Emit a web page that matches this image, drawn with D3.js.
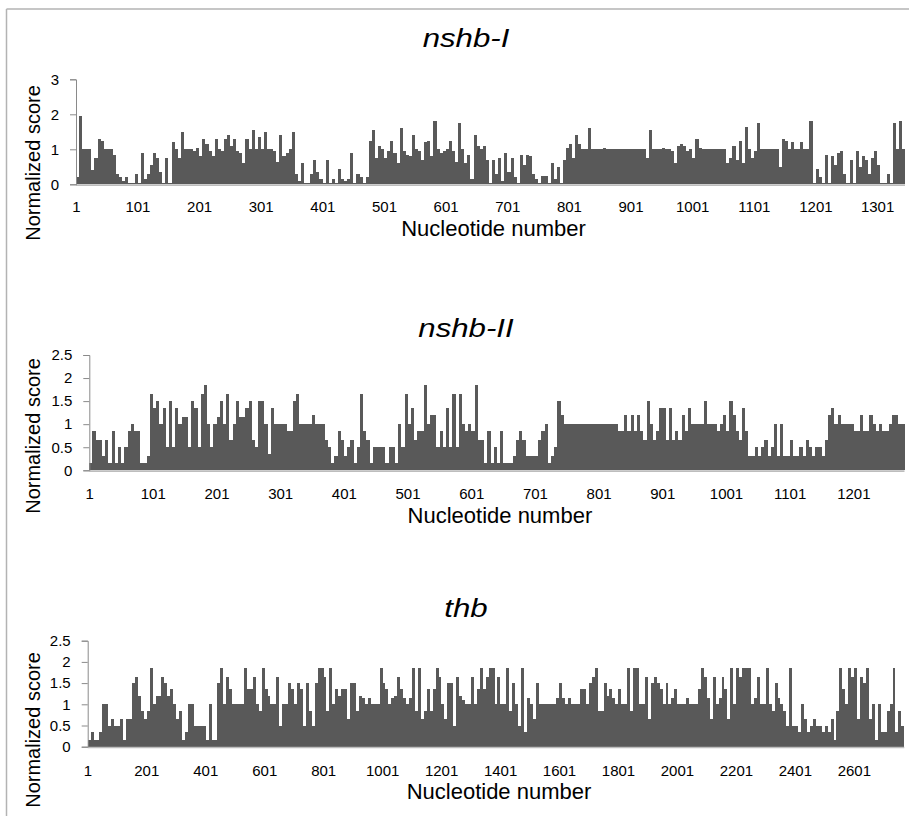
<!DOCTYPE html>
<html>
<head>
<meta charset="utf-8">
<script src="https://cdn.jsdelivr.net/npm/d3@7"></script>
<style>
  html, body { margin: 0; padding: 0; background: #fff; }
  svg { display: block; }
  text { font-family: "Liberation Sans", Arial, sans-serif; fill: #000; }
</style>
</head>
<body>
<svg id="chart" width="909" height="816"></svg>
<script>
// ---------- DATA (values per window of nucleotides) ----------
const titles = ["nshb-I", "nshb-II", "thb"];
const yAxisLabel = "Normalized score";
const xAxisLabel = "Nucleotide number";

// window sizes (nucleotides per bar)
const binSizes = [5, 5, 10];

// nshb-I : 269 windows of 5 nt
const nshbI = [
  0.2, 1.95, 1.0, 1.0, 1.0, 0.4, 0.75, 1.3, 1.25, 1.0,
  1.0, 1.0, 0.85, 0.3, 0.2, 0.1, 0.2, 0.05, 0.05, 0.3,
  0.05, 0.9, 0.15, 0.3, 0.55, 0.9, 0.75, 0.35, 0.05, 0.75,
  0.05, 1.2, 1.0, 0.75, 1.5, 1.0, 1.0, 1.0, 0.95, 1.05,
  0.8, 1.3, 1.15, 0.95, 0.8, 1.3, 1.0, 0.95, 1.3, 1.4,
  1.1, 1.3, 0.95, 0.9, 0.6, 1.3, 1.0, 1.55, 1.0, 1.35,
  1.0, 1.5, 1.0, 1.0, 0.95, 0.65, 1.4, 0.8, 0.9, 1.0,
  1.5, 0.3, 0.1,
  0.6, 0.05, 0.05, 0.3, 0.7, 0.35, 0.15,
  0.05, 0.7, 0.05, 0.15, 0.05, 0.45, 0.15, 0.1, 0.15, 0.9,
  0.05, 0.3, 0.2, 0.05, 0.2, 1.25, 1.55, 0.75, 1.1, 1.0,
  0.75, 0.95, 1.25, 0.9, 0.6, 1.6, 0.95, 0.85, 0.8, 1.4,
  1.0, 0.95, 0.7, 1.2, 1.25, 0.8, 1.8, 1.0, 0.9, 0.95,
  1.0, 1.25, 0.95, 0.65, 1.75, 1.0, 0.6, 0.85, 0.15, 1.4,
  1.1, 1.0, 1.1, 0.7, 0.05, 0.7, 0.3, 0.75, 0.1, 0.9,
  0.35, 0.75, 0.2, 0.05, 0.85, 0.55, 0.85, 0.8, 0.3, 0.15,
  0.05, 0.25, 0.25, 0.05, 0.6, 0.15, 0.5, 0.05, 0.7, 1.05,
  1.15, 0.75, 1.4, 1.15, 1.0, 1.0, 1.6, 1.0, 1.0, 1.0,
  1.0, 1.05, 1.0, 1.0, 1.0, 1.0, 1.0, 1.0, 1.0, 1.0,
  1.0, 1.0, 1.0, 1.0, 1.0, 0.75, 1.55, 1.0, 1.0, 1.0,
  1.05, 1.0, 1.0, 0.95, 0.6, 1.1, 1.15, 1.1, 0.95, 1.0,
  0.75, 1.3, 1.05, 1.0, 1.0, 1.0, 1.0, 1.0, 1.0, 1.0,
  1.0, 0.6, 0.75, 1.1, 0.7, 1.25, 0.6, 1.65, 1.0, 0.75,
  0.95, 1.75, 1.0, 1.0, 1.0, 1.0, 1.0, 1.0, 0.5, 1.3,
  1.25, 1.0, 1.2, 1.0, 1.0, 1.2, 1.0, 1.0, 1.8, 0.05,
  0.45, 0.2, 0.05, 0.85, 0.05, 0.8, 0.55, 0.9, 0.95, 0.3,
  0.05, 0.7, 0.05, 0.95, 0.5, 0.8, 0.7, 0.3, 0.75, 0.95,
  0.55, 0.05, 0.05, 0.3, 0.05, 1.75, 1.0, 1.8, 1.0
];

// nshb-II : 256 windows of 5 nt
const nshbII = [
  0.15, 0.85, 0.65, 0.65, 0.3, 0.65, 0.15, 0.85, 0.15, 0.5,
  0.15, 0.5, 0.85, 1.0, 0.85, 0.85, 0.15, 0.15, 0.3, 1.65,
  1.35, 1.5, 1.0, 1.35, 0.5, 1.5, 0.5, 1.35, 1.0, 1.15,
  1.15, 0.5, 1.5, 1.35, 0.5, 1.65, 1.85, 1.0, 0.5, 1.0,
  1.15, 1.5, 1.0, 1.65, 0.65, 1.0, 1.5, 1.15, 1.15, 1.35,
  1.5, 0.65, 0.5, 1.5, 1.5, 1.0, 0.35, 1.35, 1.0, 1.0,
  1.0, 1.0, 0.85, 0.85, 1.5, 1.65, 1.0, 1.0, 1.0, 1.0,
  1.2, 1.0, 1.0, 1.0, 0.65, 0.5, 0.15, 0.3, 0.85, 0.65,
  0.3, 0.5, 0.65, 0.15, 0.5, 1.65, 0.85, 0.65, 0.15, 0.5,
  0.5, 0.5, 0.5, 0.15, 0.5, 0.5, 0.15, 1.0, 0.5, 1.65,
  1.0, 1.35, 0.65, 0.85, 0.85, 1.85, 1.0, 1.2, 1.2, 0.5,
  0.85, 0.5, 1.35, 0.5, 1.65, 0.5, 1.65, 1.0, 0.85, 1.0,
  0.85, 1.85, 0.65, 0.65, 0.15, 0.85, 0.15, 0.5, 0.15, 0.85,
  0.15, 0.15, 0.15, 0.3, 0.65, 0.85, 0.65, 0.3, 0.3, 0.3,
  0.3, 0.65, 0.85, 1.0, 0.15, 0.3, 0.5, 1.5, 1.2, 1.0,
  1.0, 1.0, 1.0, 1.0, 1.0, 1.0, 1.0, 1.0, 1.0, 1.0,
  1.0, 1.0, 1.0, 1.0, 1.0, 1.0, 0.85, 0.85, 1.2, 0.85,
  1.2, 0.85, 1.2, 0.85, 0.65, 1.5, 1.0, 0.65, 0.85, 1.35,
  1.35, 0.65, 1.35, 0.65, 0.85, 0.65, 1.2, 0.85, 1.35, 1.0,
  1.0, 1.0, 1.0, 1.5, 1.0, 1.0, 1.0, 0.85, 1.0, 1.2,
  0.85, 1.5, 1.2, 0.85, 0.65, 1.35, 0.85, 0.3, 0.3, 0.5,
  0.3, 0.5, 0.65, 0.3, 0.5, 1.0, 0.3, 1.0, 0.3, 0.3,
  0.65, 0.3, 0.3, 0.5, 0.3, 0.65, 0.5, 0.3, 0.5, 0.5,
  0.3, 0.65, 1.2, 1.35, 1.0, 1.2, 1.0, 1.0, 1.0, 1.0,
  0.85, 0.85, 1.2, 0.85, 0.85, 1.2, 1.0, 0.85, 1.0, 0.85,
  0.85, 1.0, 1.2, 1.2, 1.0, 1.0
];

// thb : 277 windows of 10 nt
const thb = [
  0.15, 0.35, 0.15, 0.15, 0.35, 1.0, 1.0, 0.5, 0.65, 0.5,
  0.5, 0.65, 0.15, 0.65, 0.65, 1.5, 1.65, 1.2, 0.85, 0.65,
  0.85, 1.85, 1.0, 1.2, 1.2, 1.65, 1.5, 1.2, 1.35, 1.0,
  0.65, 0.85, 0.15, 0.35, 1.0, 1.0, 0.5, 0.5, 0.5, 0.5,
  0.15, 1.0, 0.15, 0.15, 1.5, 1.85, 1.0, 1.65, 1.35, 1.0,
  1.0, 1.0, 1.0, 1.85, 1.35, 1.35, 1.65, 1.0, 0.85, 1.85,
  1.35, 1.2, 1.0, 1.0, 1.65, 0.5, 1.0, 1.0, 1.5, 1.35,
  1.0, 1.5, 1.35, 0.5, 1.5, 0.85, 0.5, 1.5, 1.85, 1.85,
  1.65, 0.85, 1.85, 1.0, 1.35, 1.2, 1.35, 1.35, 0.65, 1.5,
  1.5, 0.85, 1.2, 1.15, 1.0, 1.15, 1.0, 1.0, 1.0, 1.85,
  1.5, 1.35, 1.0, 1.15, 1.2, 1.65, 1.35, 1.15, 1.0, 1.15,
  1.85, 0.85, 1.85, 0.65, 0.85, 1.35, 0.85, 1.35, 1.85, 1.65,
  1.0, 0.65, 1.5, 1.5, 0.5, 1.65, 1.2, 1.1, 1.0, 1.0,
  1.65, 1.0, 1.35, 1.85, 1.35, 1.65, 1.85, 1.85, 1.0, 1.65,
  1.0, 1.0, 1.85, 0.85, 1.5, 1.0, 0.5, 1.85, 0.35, 1.15,
  1.0, 0.65, 1.5, 1.0, 1.0, 1.0, 1.0, 1.0, 1.0, 1.15,
  1.5, 1.15, 1.0, 1.15, 1.0, 1.0, 1.0, 1.35, 1.35, 1.0,
  1.5, 1.65, 1.85, 0.85, 0.85, 1.5, 1.2, 1.35, 1.15, 1.0,
  1.35, 1.0, 1.0, 1.85, 0.85, 1.85, 1.85, 1.0, 1.0, 1.65,
  0.65, 1.5, 1.65, 1.5, 1.35, 1.0, 1.5, 1.0, 1.15, 1.35,
  1.0, 1.0, 1.0, 1.15, 1.0, 1.0, 1.0, 1.35, 1.85, 1.65,
  1.15, 0.65, 1.65, 1.0, 1.15, 1.65, 1.35, 0.65, 1.85, 1.0,
  1.85, 1.65, 1.85, 1.85, 1.85, 1.0, 1.15, 1.65, 1.0, 1.0,
  1.85, 1.0, 0.85, 1.5, 1.15, 1.0, 0.85, 0.5, 1.85, 0.5,
  0.5, 0.35, 1.0, 0.65, 0.35, 0.5, 0.65, 0.5, 0.5, 0.35,
  0.5, 0.35, 0.65, 0.15, 0.85, 1.85, 1.35, 1.0, 1.85, 1.65,
  1.85, 0.65, 1.65, 1.5, 1.85, 0.65, 1.0, 0.15, 1.0, 0.35,
  0.35, 0.85, 1.0, 1.85, 0.35, 0.85, 0.5
];

// axis tick labels
const xTicks1 = [1, 101, 201, 301, 401, 501, 601, 701, 801, 901, 1001, 1101, 1201, 1301];
const xTicks2 = [1, 101, 201, 301, 401, 501, 601, 701, 801, 901, 1001, 1101, 1201];
const xTicks3 = [1, 201, 401, 601, 801, 1001, 1201, 1401, 1601, 1801, 2001, 2201, 2401, 2601];
const yTicks1 = [0, 1, 2, 3];
const yTicks23 = [0, 0.5, 1, 1.5, 2, 2.5];
const yMax = [3, 2.5, 2.5];

// ---------- LAYOUT ----------
const panels = [
  { title: titles[0], values: nshbI, bin: binSizes[0], xTicks: xTicks1, yTicks: yTicks1, yMax: yMax[0],
    left: 76, right: 905, top: 79.3, bottom: 184.3, titleY: 47, yLabelC: 163, xTickY: 212, xTitleY: 235.5 },
  { title: titles[1], values: nshbII, bin: binSizes[1], xTicks: xTicks2, yTicks: yTicks23, yMax: yMax[1],
    left: 89.3, right: 904.5, top: 355, bottom: 470.3, titleY: 337, yLabelC: 436, xTickY: 499, xTitleY: 522.5 },
  { title: titles[2], values: thb, bin: binSizes[2], xTicks: xTicks3, yTicks: yTicks23, yMax: yMax[2],
    left: 87.7, right: 904.3, top: 640.7, bottom: 746.7, titleY: 617, yLabelC: 730, xTickY: 775.5, xTitleY: 799 }
];

const svg = d3.select("#chart");
const barColor = "#595959";

// outer frame
svg.append("line").attr("x1", 6.5).attr("x2", 909).attr("y1", 9).attr("y2", 9)
  .attr("stroke", "#b3b3b3").attr("stroke-width", 1.5);
svg.append("line").attr("x1", 6.5).attr("x2", 6.5).attr("y1", 9).attr("y2", 816)
  .attr("stroke", "#b3b3b3").attr("stroke-width", 1.5);

panels.forEach(p => {
  const nNt = p.values.length * p.bin;
  const x = d3.scaleLinear().domain([0.5, nNt + 0.5]).range([p.left, p.right]);
  const y = d3.scaleLinear().domain([0, p.yMax]).range([p.bottom, p.top]);
  const g = svg.append("g");
  const xs = i => Math.round(x(i * p.bin + 0.5));

  // bars
  g.append("g").attr("shape-rendering", "crispEdges").selectAll("rect")
    .data(p.values)
    .join("rect")
    .attr("x", (d, i) => xs(i))
    .attr("width", (d, i) => xs(i + 1) - xs(i))
    .attr("y", d => y(d))
    .attr("height", d => y(0) - y(d))
    .attr("fill", barColor);

  // x baseline
  g.append("line")
    .attr("x1", p.left).attr("x2", p.right)
    .attr("y1", y(0) + 0.8).attr("y2", y(0) + 0.8)
    .attr("stroke", "#bdbdbd").attr("stroke-width", 1.6);

  // x tick labels
  g.append("g").selectAll("text")
    .data(p.xTicks)
    .join("text")
    .attr("x", d => x(d))
    .attr("y", p.xTickY)
    .attr("text-anchor", "middle")
    .style("font-size", "15px")
    .text(d => d);

  // y axis
  const yAxis = d3.axisLeft(y).tickValues(p.yTicks).tickSize(6).tickPadding(11)
    .tickFormat(d3.format("~g"));
  const ya = g.append("g").attr("transform", `translate(${p.left},0)`).call(yAxis);
  ya.select(".domain").attr("stroke", "#8a8a8a");
  ya.selectAll(".tick line").attr("stroke", "#8a8a8a");
  ya.selectAll(".tick text")
    .style("font-family", '"Liberation Sans", Arial, sans-serif')
    .style("font-size", "15px").attr("fill", "#000");

  // title
  g.append("text")
    .attr("transform", `translate(466,${p.titleY}) scale(1.2,1)`)
    .attr("text-anchor", "middle")
    .style("font-size", "26px")
    .style("font-style", "italic")
    .text(p.title);

  // y axis title
  g.append("text")
    .attr("transform", `translate(40,${p.yLabelC}) rotate(-90)`)
    .attr("text-anchor", "middle")
    .style("font-size", "20px")
    .text(yAxisLabel);

  // x axis title
  g.append("text")
    .attr("x", (p.left + p.right) / 2 + 3)
    .attr("y", p.xTitleY)
    .attr("text-anchor", "middle")
    .style("font-size", "22px")
    .text(xAxisLabel);
});
</script>
</body>
</html>
